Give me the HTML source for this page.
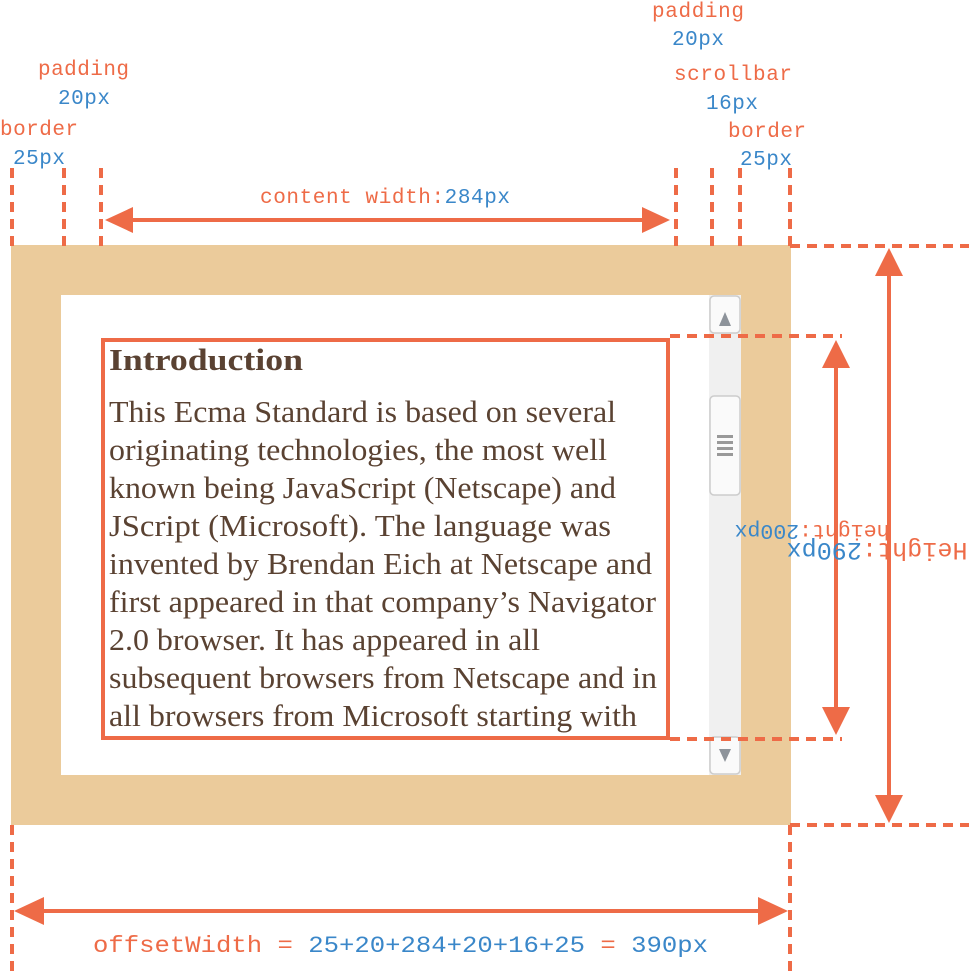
<!DOCTYPE html>
<html><head><meta charset="utf-8"><style>
html,body{margin:0;padding:0;background:#fff;}
svg{display:block;}
.m{font-family:"Liberation Mono","DejaVu Sans Mono",monospace;font-size:21px;}
.o{fill:#EE6B47;} .b{fill:#3A87C9;}
.d{stroke:#EE6B47;stroke-width:4;stroke-dasharray:10 7;fill:none;}
.s{stroke:#EE6B47;stroke-width:4;fill:none;}
.t{font-family:"Liberation Serif",serif;font-size:31px;fill:#5a4232;}
</style></head><body>
<svg width="969" height="975" viewBox="0 0 969 975" xmlns="http://www.w3.org/2000/svg">
<rect x="11" y="245" width="780" height="580" fill="#EBCB9B"/>
<rect x="61" y="295" width="680" height="480" fill="#fff"/>
<rect x="709" y="295" width="32" height="480" fill="#f0f0f0"/>
<rect x="710" y="296" width="30" height="37" rx="4" fill="#fafafa" stroke="#ccc" stroke-width="1.5"/>
<polygon points="719,326 731,326 725,312" fill="#8d939a"/>
<rect x="710" y="396" width="30" height="99" rx="4" fill="#fafafa" stroke="#ccc" stroke-width="1.5"/>
<rect x="717" y="435" width="16" height="3" fill="#999"/>
<rect x="717" y="441" width="16" height="3" fill="#999"/>
<rect x="717" y="447" width="16" height="3" fill="#999"/>
<rect x="717" y="453" width="16" height="3" fill="#999"/>
<rect x="710" y="737" width="30" height="37" rx="4" fill="#fafafa" stroke="#ccc" stroke-width="1.5"/>
<polygon points="719,749 731,749 725,762" fill="#8d939a"/>
<rect x="103" y="340" width="565" height="398" class="s" stroke-width="3"/>
<text x="109" y="370" class="t" font-weight="bold" font-size="32" textLength="194" lengthAdjust="spacingAndGlyphs">Introduction</text>
<g class="t">
<text x="109" y="422" textLength="507" lengthAdjust="spacingAndGlyphs">This Ecma Standard is based on several</text>
<text x="109" y="460" textLength="498" lengthAdjust="spacingAndGlyphs">originating technologies, the most well</text>
<text x="109" y="498" textLength="507" lengthAdjust="spacingAndGlyphs">known being JavaScript (Netscape) and</text>
<text x="109" y="536" textLength="502" lengthAdjust="spacingAndGlyphs">JScript (Microsoft). The language was</text>
<text x="109" y="574" textLength="543" lengthAdjust="spacingAndGlyphs">invented by Brendan Eich at Netscape and</text>
<text x="109" y="612" textLength="547" lengthAdjust="spacingAndGlyphs">first appeared in that company’s Navigator</text>
<text x="109" y="650" textLength="431" lengthAdjust="spacingAndGlyphs">2.0 browser. It has appeared in all</text>
<text x="109" y="688" textLength="548" lengthAdjust="spacingAndGlyphs">subsequent browsers from Netscape and in</text>
<text x="109" y="726" textLength="528" lengthAdjust="spacingAndGlyphs">all browsers from Microsoft starting with</text>
</g>
<path class="d" d="M12 168V250M64 168V250M101 168V250M676 168V250M712 168V250M740 168V250M790 168V250"/>
<path class="d" d="M790 246H969M790 825H969M670 336H842M670 739H842"/>
<path class="d" d="M12 825V975M790 825V975"/>
<line x1="128" y1="220" x2="648" y2="220" class="s"/>
<polygon points="105,220 133,207 133,233" fill="#EE6B47"/>
<polygon points="670,220 642,207 642,233" fill="#EE6B47"/>
<line x1="836" y1="365" x2="836" y2="710" class="s"/>
<polygon points="836,340 822,368 850,368" fill="#EE6B47"/>
<polygon points="836,735 822,707 850,707" fill="#EE6B47"/>
<line x1="889" y1="272" x2="889" y2="798" class="s"/>
<polygon points="889,248 875,276 903,276" fill="#EE6B47"/>
<polygon points="889,823 875,795 903,795" fill="#EE6B47"/>
<line x1="38" y1="911" x2="765" y2="911" class="s"/>
<polygon points="14,911 44,897 44,925" fill="#EE6B47"/>
<polygon points="788,911 758,897 758,925" fill="#EE6B47"/>
<g class="m">
<text x="38" y="75" class="o" textLength="91">padding</text>
<text x="58" y="104" class="b" textLength="52">20px</text>
<text x="0" y="135" class="o" textLength="78">border</text>
<text x="13" y="164" class="b" textLength="52">25px</text>
<text x="652" y="17" class="o" textLength="92">padding</text>
<text x="672" y="45" class="b" textLength="52">20px</text>
<text x="674" y="80" class="o" textLength="118">scrollbar</text>
<text x="706" y="109" class="b" textLength="52">16px</text>
<text x="728" y="137" class="o" textLength="78">border</text>
<text x="740" y="165" class="b" textLength="52">25px</text>
<text x="260" y="203" class="o" textLength="250">content width:<tspan class="b">284px</tspan></text>
<text x="812" y="539" text-anchor="middle" font-size="21.6" transform="rotate(180 812 532)" textLength="155"><tspan class="o">height:</tspan><tspan class="b">200px</tspan></text>
<text x="877" y="561" text-anchor="middle" font-size="25" transform="rotate(180 877 552)" textLength="181"><tspan class="o">Height:</tspan><tspan class="b">290px</tspan></text>
<text x="93" y="952" font-size="23" textLength="615" lengthAdjust="spacingAndGlyphs"><tspan class="o">offsetWidth = </tspan><tspan class="b">25+20+284+20+16+25</tspan><tspan class="o"> = </tspan><tspan class="b">390px</tspan></text>
</g>
</svg>
</body></html>
